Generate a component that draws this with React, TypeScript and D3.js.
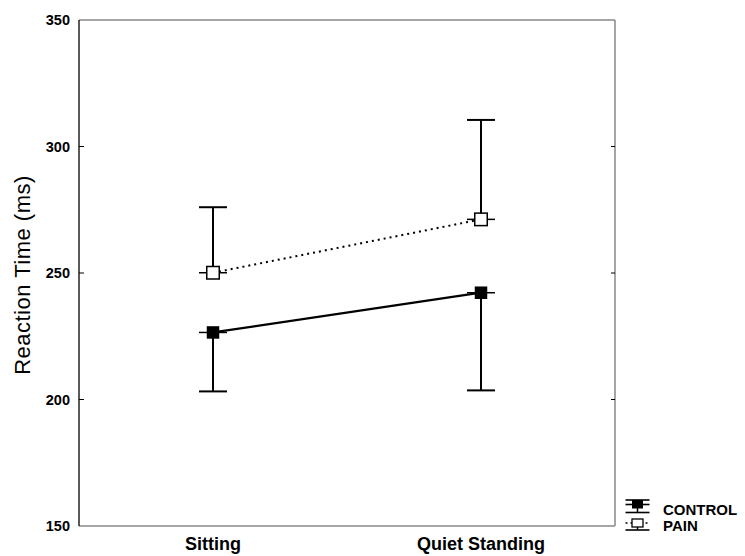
import React, { useEffect, useRef } from 'react';
import * as d3 from 'd3';

const conditions = ['Sitting', 'Quiet Standing'];
const controlMeans = [226.5, 242.2];
const controlLower = [203.2, 203.6];
const painMeans = [250.1, 271.2];
const painUpper = [276.0, 310.5];
const yTicks = [150, 200, 250, 300, 350];

const App = () => {
  const ref = useRef<SVGSVGElement>(null);

  useEffect(() => {
    const svg = d3.select(ref.current);
    svg.selectAll('*').remove();
    const left = 79, right = 615, top = 20, bottom = 526;
    const font = 'Arial, "Liberation Sans", sans-serif';

    const x = d3.scalePoint().domain(conditions).range([left, right]).padding(0.5);
    const y = d3.scaleLinear().domain([150, 350]).range([bottom, top]);

    svg.append('rect').attr('width', 745).attr('height', 556).attr('fill', '#fff');

    // frame
    svg.append('line').attr('x1', left).attr('x2', right).attr('y1', top).attr('y2', top)
      .attr('stroke', '#888').attr('stroke-width', 1.5);
    svg.append('line').attr('x1', right).attr('x2', right).attr('y1', top).attr('y2', bottom)
      .attr('stroke', '#888').attr('stroke-width', 1.5);
    svg.append('line').attr('x1', left).attr('x2', right).attr('y1', bottom).attr('y2', bottom)
      .attr('stroke', '#888').attr('stroke-width', 1.5);
    svg.append('line').attr('x1', left).attr('x2', left).attr('y1', top).attr('y2', bottom)
      .attr('stroke', '#222').attr('stroke-width', 1.5);

    // y ticks
    yTicks.forEach(t => {
      if (t !== 150 && t !== 350) {
        svg.append('line').attr('x1', left).attr('x2', left + 5).attr('y1', y(t)).attr('y2', y(t))
          .attr('stroke', '#000').attr('stroke-width', 1);
        svg.append('line').attr('x1', right - 4).attr('x2', right).attr('y1', y(t)).attr('y2', y(t))
          .attr('stroke', '#000').attr('stroke-width', 1);
      }
      svg.append('text').attr('x', 70).attr('y', y(t)).attr('dy', '0.36em')
        .attr('text-anchor', 'end').attr('font-family', font).attr('font-weight', 'bold')
        .attr('font-size', 14.5).text(t);
    });

    // x labels
    conditions.forEach(c => {
      svg.append('text').attr('x', x(c)!).attr('y', 550).attr('text-anchor', 'middle')
        .attr('font-family', font).attr('font-weight', 'bold').attr('font-size', 18).text(c);
    });

    svg.append('text')
      .attr('transform', `translate(30,${(top + bottom) / 2 + 2}) rotate(-90)`)
      .attr('text-anchor', 'middle').attr('font-family', font).attr('font-size', 22)
      .attr('letter-spacing', 0.5)
      .text('Reaction Time (ms)');

    const capW = 14;
    // error bars
    conditions.forEach((c, i) => {
      const cx = x(c)!;
      svg.append('line').attr('x1', cx).attr('x2', cx).attr('y1', y(painMeans[i])).attr('y2', y(painUpper[i]))
        .attr('stroke', '#000').attr('stroke-width', 2);
      svg.append('line').attr('x1', cx - capW).attr('x2', cx + capW).attr('y1', y(painUpper[i])).attr('y2', y(painUpper[i]))
        .attr('stroke', '#000').attr('stroke-width', 2);
      svg.append('line').attr('x1', cx).attr('x2', cx).attr('y1', y(controlMeans[i])).attr('y2', y(controlLower[i]))
        .attr('stroke', '#000').attr('stroke-width', 2);
      svg.append('line').attr('x1', cx - capW).attr('x2', cx + capW).attr('y1', y(controlLower[i])).attr('y2', y(controlLower[i]))
        .attr('stroke', '#000').attr('stroke-width', 2);
      [painMeans[i], controlMeans[i]].forEach(m => {
        svg.append('line').attr('x1', cx - capW).attr('x2', cx + capW).attr('y1', y(m)).attr('y2', y(m))
          .attr('stroke', '#000').attr('stroke-width', 1.5);
      });
    });

    const line = d3.line<number>().x((d, i) => x(conditions[i])!).y(d => y(d));
    svg.append('path').datum(controlMeans).attr('d', line).attr('fill', 'none')
      .attr('stroke', '#000').attr('stroke-width', 2.3);
    svg.append('path').datum(painMeans).attr('d', line).attr('fill', 'none')
      .attr('stroke', '#000').attr('stroke-width', 2).attr('stroke-dasharray', '2,4');

    const sq = 12.5;
    conditions.forEach((c, i) => {
      const cx = x(c)!;
      svg.append('rect').attr('x', cx - sq / 2).attr('y', y(controlMeans[i]) - sq / 2)
        .attr('width', sq).attr('height', sq).attr('fill', '#000');
      svg.append('rect').attr('x', cx - sq / 2).attr('y', y(painMeans[i]) - sq / 2)
        .attr('width', sq).attr('height', sq).attr('fill', '#fff').attr('stroke', '#000').attr('stroke-width', 1.5);
    });

    // legend
    const lg = svg.append('g');
    const lx = 637.5;
    const hl = (yy: number, dash?: string) => {
      const l = lg.append('line').attr('x1', lx - 12).attr('x2', lx + 12).attr('y1', yy).attr('y2', yy)
        .attr('stroke', '#000').attr('stroke-width', 1.6);
      if (dash) l.attr('stroke-dasharray', dash);
    };
    hl(500);
    lg.append('rect').attr('x', lx - 5.5).attr('y', 500).attr('width', 11).attr('height', 8.5).attr('fill', '#000');
    hl(504.5);
    lg.append('line').attr('x1', lx).attr('x2', lx).attr('y1', 508).attr('y2', 512.5).attr('stroke', '#000').attr('stroke-width', 1.5);
    hl(512.5);
    hl(523, '2,3');
    lg.append('rect').attr('x', lx - 5.5).attr('y', 519).attr('width', 11).attr('height', 8).attr('fill', '#fff')
      .attr('stroke', '#000').attr('stroke-width', 1.3);
    lg.append('line').attr('x1', lx).attr('x2', lx).attr('y1', 527).attr('y2', 530).attr('stroke', '#000').attr('stroke-width', 1.5);
    hl(530);
    lg.append('text').attr('x', 663).attr('y', 514.5).attr('font-family', font).attr('font-weight', 'bold')
      .attr('font-size', 15).text('CONTROL');
    lg.append('text').attr('x', 663).attr('y', 531).attr('font-family', font).attr('font-weight', 'bold')
      .attr('font-size', 15).text('PAIN');
  }, []);

  return (
    <svg ref={ref} width={745} height={556} style={{ position: 'absolute', left: 0, top: 0 }} />
  );
};

export default App;
